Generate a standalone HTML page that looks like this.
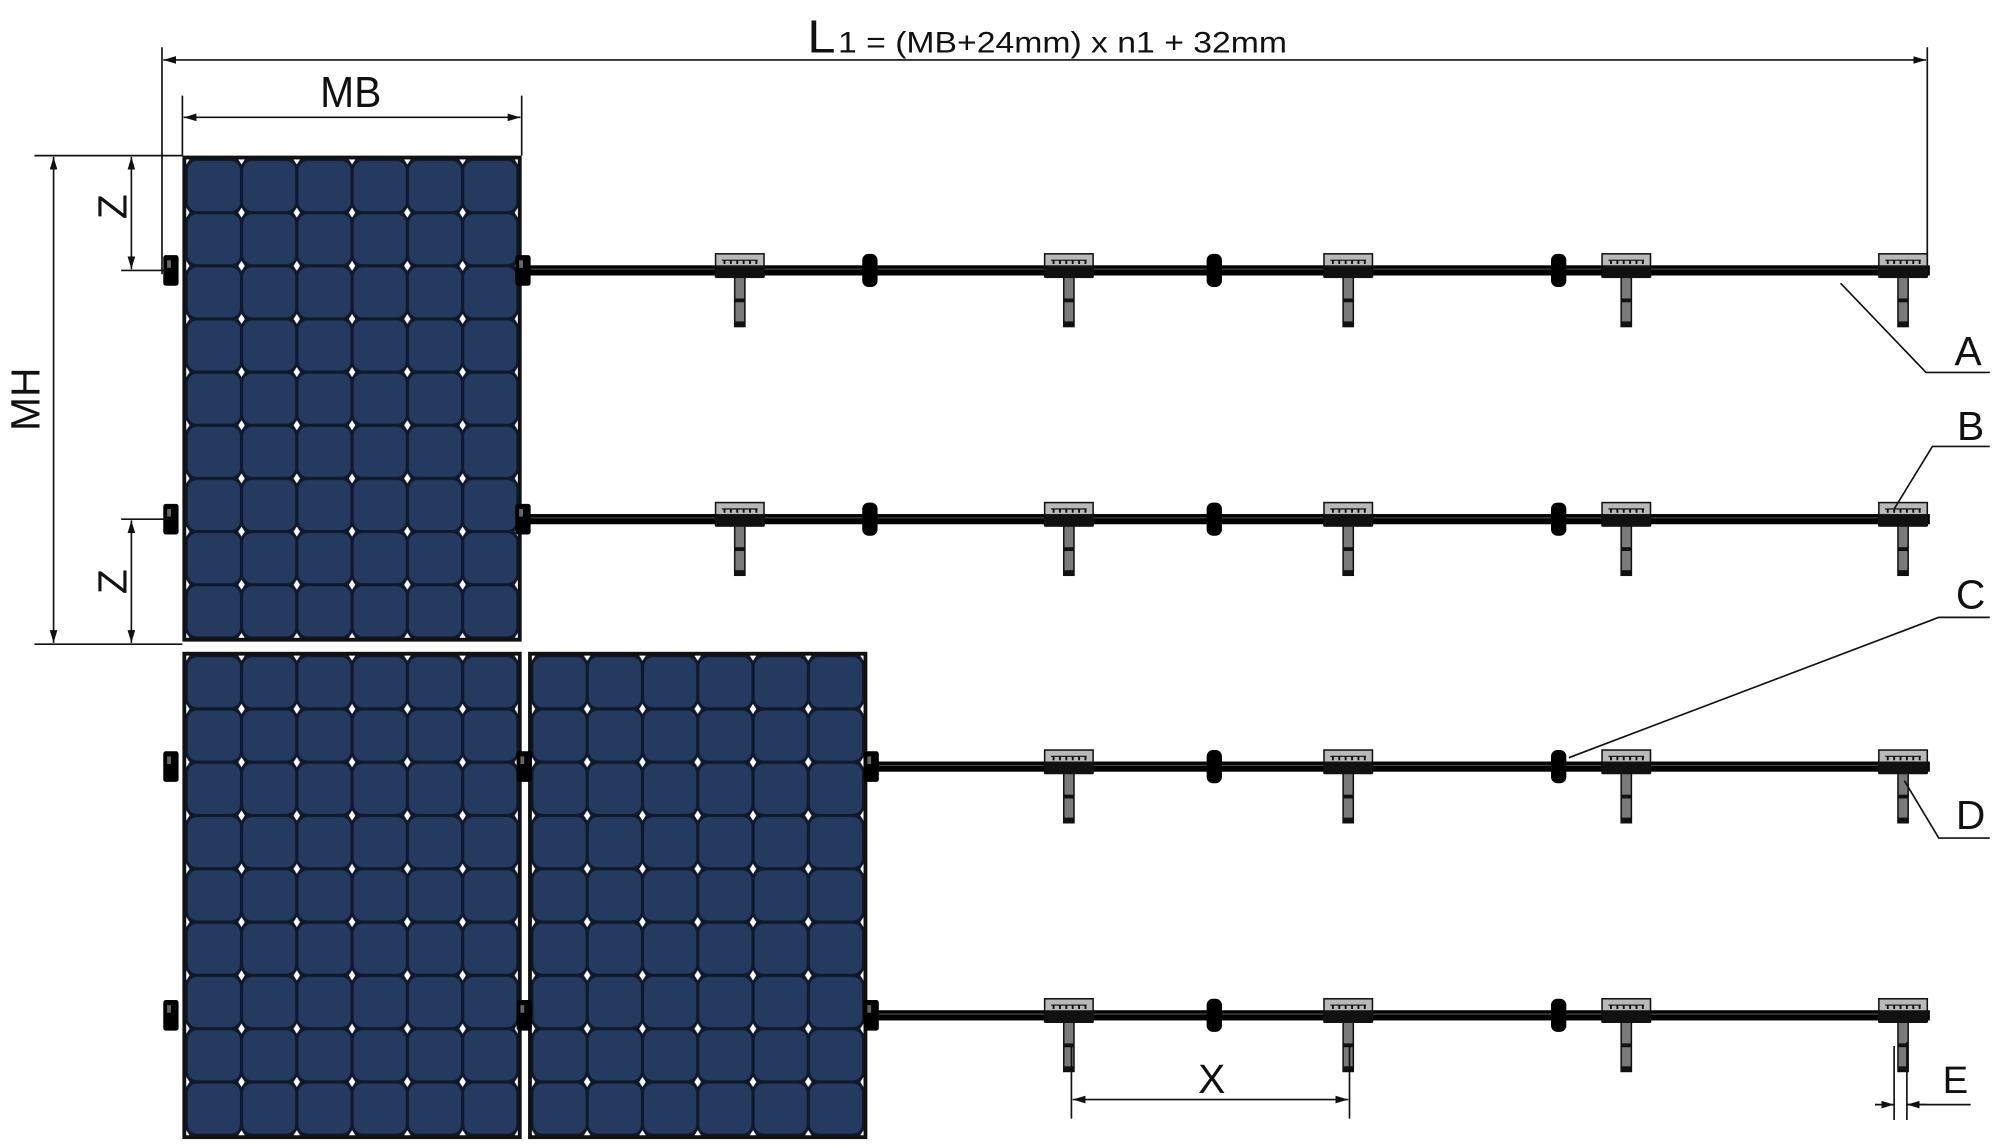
<!DOCTYPE html>
<html><head><meta charset="utf-8"><style>
html,body{margin:0;padding:0;background:#fff;}
svg{display:block;}
text{font-family:"Liberation Sans",sans-serif;fill:#111;}
</style></head><body>
<svg width="2000" height="1148" viewBox="0 0 1568 900" preserveAspectRatio="none" xmlns="http://www.w3.org/2000/svg">
<defs>
<pattern id="cells" patternUnits="objectBoundingBox" width="0.1666667" height="0.1111111" patternContentUnits="userSpaceOnUse">
  <rect x="0" y="0" width="43.4" height="41.8" fill="#0e1a2c"/>
  <rect x="1.3" y="1.3" width="40.8" height="39.2" rx="7" fill="#243b5f"/>
  <polygon points="0,-4 2.6,0 0,4 -2.6,0" fill="#fff"/>
  <polygon points="43.4,-4 46,0 43.4,4 40.8,0" fill="#fff"/>
  <polygon points="0,37.8 2.6,41.8 0,45.8 -2.6,41.8" fill="#fff"/>
  <polygon points="43.4,37.8 46,41.8 43.4,45.8 40.8,41.8" fill="#fff"/>
</pattern>
<g id="brk">
  <rect x="-4" y="2" width="8" height="42" fill="#7a7a7a" stroke="#111" stroke-width="1.2"/>
  <rect x="-4" y="22" width="8" height="3" fill="#111"/>
  <rect x="-4" y="40" width="8" height="4" fill="#111"/>
  <rect x="-19" y="-13" width="38" height="18" fill="#b9b9b9" stroke="#111" stroke-width="1.2"/>
  <path d="M-14,-8 h28" stroke="#222" stroke-width="1"/>
  <path d="M-12,-8v3M-7,-8v3M-2,-8v3M3,-8v3M8,-8v3M13,-8v3" stroke="#111" stroke-width="1.5"/>
  <rect x="-19" y="-4" width="38" height="10" fill="#111"/>
</g>
<g id="con"><rect x="-6" y="-13" width="12" height="26" rx="5" fill="#000"/></g>
<g id="clp"><rect x="-6" y="-12" width="12" height="24" rx="2" fill="#000"/><rect x="-3" y="-8" width="3" height="6" fill="#666"/></g>
<marker id="ar" viewBox="0 0 10 6" refX="10" refY="3" markerWidth="10" markerHeight="6" orient="auto-start-reverse" markerUnits="userSpaceOnUse"><path d="M0,0 L10,3 L0,6 z" fill="#111"/></marker>
</defs>

<rect x="143" y="122" width="266" height="381" fill="#111"/>
<rect x="146" y="125" width="260" height="375" fill="url(#cells)"/>
<rect x="143" y="511" width="266" height="382" fill="#111"/>
<rect x="146" y="514" width="260" height="376" fill="url(#cells)"/>
<rect x="414" y="511" width="266" height="382" fill="#111"/>
<rect x="417" y="514" width="260" height="376" fill="url(#cells)"/>

<g fill="#000">
<rect x="409" y="208" width="1104" height="8"/>
<rect x="409" y="403" width="1104" height="8"/>
<rect x="680" y="597" width="833" height="8"/>
<rect x="680" y="792" width="833" height="8"/>
</g>
<g stroke="#555" stroke-width="0.8">
<path d="M412,211H1511M412,406H1511M683,600H1511M683,795H1511"/>
</g>

<use href="#clp" x="134" y="212"/><use href="#clp" x="410" y="212"/>
<use href="#clp" x="134" y="407"/><use href="#clp" x="410" y="407"/>
<use href="#clp" x="134" y="601"/><use href="#clp" x="411" y="601"/><use href="#clp" x="683" y="601"/>
<use href="#clp" x="134" y="796"/><use href="#clp" x="411" y="796"/><use href="#clp" x="683" y="796"/>

<use href="#brk" x="580" y="212"/><use href="#brk" x="838" y="212"/><use href="#brk" x="1057" y="212"/><use href="#brk" x="1275" y="212"/><use href="#brk" x="1492" y="212"/>
<use href="#brk" x="580" y="407"/><use href="#brk" x="838" y="407"/><use href="#brk" x="1057" y="407"/><use href="#brk" x="1275" y="407"/><use href="#brk" x="1492" y="407"/>
<use href="#brk" x="838" y="601"/><use href="#brk" x="1057" y="601"/><use href="#brk" x="1275" y="601"/><use href="#brk" x="1492" y="601"/>
<use href="#brk" x="838" y="796"/><use href="#brk" x="1057" y="796"/><use href="#brk" x="1275" y="796"/><use href="#brk" x="1492" y="796"/>

<use href="#con" x="682" y="212"/><use href="#con" x="952" y="212"/><use href="#con" x="1222" y="212"/>
<use href="#con" x="682" y="407"/><use href="#con" x="952" y="407"/><use href="#con" x="1222" y="407"/>
<use href="#con" x="952" y="601"/><use href="#con" x="1222" y="601"/>
<use href="#con" x="952" y="796"/><use href="#con" x="1222" y="796"/>

<g stroke="#111" stroke-width="1.3" fill="none">
<path d="M127,37V215M1511,37V212"/>
<path d="M128,47H1510" marker-start="url(#ar)" marker-end="url(#ar)"/>
<path d="M143,75V122M409,75V122"/>
<path d="M144,92H408" marker-start="url(#ar)" marker-end="url(#ar)"/>
<path d="M27,122H143M27,505H143M95,212H132M95,407H132"/>
<path d="M42,123V504" marker-start="url(#ar)" marker-end="url(#ar)"/>
<path d="M103,123V211" marker-start="url(#ar)" marker-end="url(#ar)"/>
<path d="M103,408V504" marker-start="url(#ar)" marker-end="url(#ar)"/>
<path d="M840,820V877M1058,820V877"/>
<path d="M841,862H1057" marker-start="url(#ar)" marker-end="url(#ar)"/>
<path d="M1485,820V878M1495,817V878"/>
<path d="M1470,866H1485" marker-end="url(#ar)"/>
<path d="M1510,866H1495" marker-end="url(#ar)"/>
<path d="M1495,866H1545"/>
<path d="M1443,222L1510,292H1560"/>
<path d="M1485,399L1515,350H1560"/>
<path d="M1230,594L1520,484H1560"/>
<path d="M1493,612L1520,657H1560"/>
</g>

<text x="633" y="41" font-size="36" textLength="22" lengthAdjust="spacingAndGlyphs">L</text>
<text x="657" y="41" font-size="23" textLength="352" lengthAdjust="spacingAndGlyphs">1 = (MB+24mm) x n1 + 32mm</text>
<text x="275" y="84" font-size="34" text-anchor="middle" textLength="48" lengthAdjust="spacingAndGlyphs">MB</text>
<text x="950" y="857" font-size="32" text-anchor="middle">X</text>
<text x="1533" y="857" font-size="30" text-anchor="middle">E</text>
<text x="1543" y="286" font-size="32" text-anchor="middle">A</text>
<text x="1545" y="345" font-size="32" text-anchor="middle">B</text>
<text x="1545" y="477" font-size="32" text-anchor="middle">C</text>
<text x="1545" y="650" font-size="32" text-anchor="middle">D</text>
<text transform="translate(31,313) rotate(-90)" font-size="32" text-anchor="middle">MH</text>
<text transform="translate(99,162) rotate(-90)" font-size="32" text-anchor="middle">Z</text>
<text transform="translate(99,456) rotate(-90)" font-size="32" text-anchor="middle">Z</text>
</svg>
</body></html>
